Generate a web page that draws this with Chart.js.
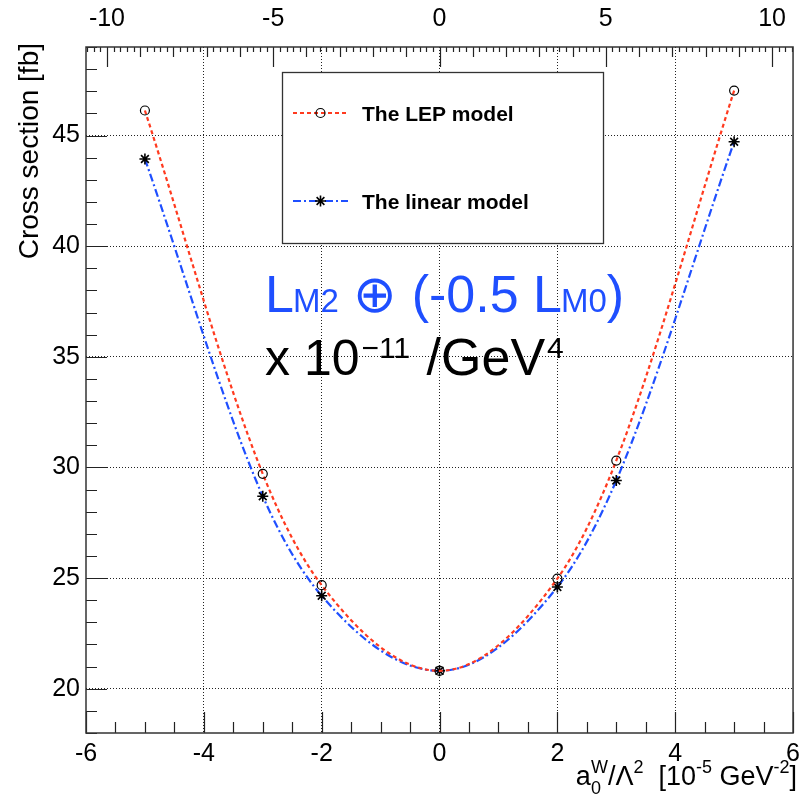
<!DOCTYPE html>
<html><head><meta charset="utf-8">
<script src="https://cdn.jsdelivr.net/npm/chart.js@4/dist/chart.umd.min.js"></script>
<style>html,body{margin:0;padding:0;background:#fff;} #wrap{width:806px;height:799px;position:relative;}</style>
</head><body><div id="wrap"><canvas id="c" width="806" height="799"></canvas></div>
<script>
// ---- data ----
const xValues = [-5, -3, -2, 0, 2, 3, 5];
const lepValues = [46.13, 29.71, 24.68, 20.81, 24.98, 30.31, 47.03];
const linearValues = [43.94, 28.70, 24.20, 20.81, 24.60, 29.41, 44.72];
const seriesNames = ['The LEP model', 'The linear model'];
const xTickValues = [-6, -4, -2, 0, 2, 4, 6];
const yTickValues = [20, 25, 30, 35, 40, 45];
const topTickValues = [-10, -5, 0, 5, 10];
const xRange = [-6, 6];
const yRange = [18, 49];
const topRange = [-10.63, 10.63];

const FONT = '"Liberation Sans", Arial, Helvetica, sans-serif';
const RED = '#ff3a1f';
const BLUE = '#1f4fff';

function toPts(ys) { return xValues.map((x, i) => ({x: x, y: ys[i]})); }

function drawRich(ctx, pieces, x, y, align) {
  let total = 0;
  const widths = pieces.map(p => {
    ctx.font = (p.bold ? 'bold ' : '') + p.size + 'px ' + FONT;
    const w = ctx.measureText(p.t).width;
    if (!p.stack) total += w + (p.dx || 0);
    return w;
  });
  let cx = align === 'right' ? x - total : x;
  pieces.forEach((p, i) => {
    ctx.font = (p.bold ? 'bold ' : '') + p.size + 'px ' + FONT;
    ctx.fillStyle = p.color || '#000';
    ctx.textAlign = 'left';
    ctx.textBaseline = 'alphabetic';
    ctx.fillText(p.t, cx + (p.dx || 0), y + (p.dy || 0));
    if (!p.stack) cx += widths[i] + (p.dx || 0);
  });
}

function drawMarker(ctx, style, x, y, r) {
  ctx.save();
  ctx.strokeStyle = '#000';
  ctx.lineWidth = style === 'circle' ? 1.2 : 1.6;
  ctx.beginPath();
  if (style === 'circle') {
    ctx.arc(x, y, r, 0, Math.PI * 2);
  } else {
    for (let k = 0; k < 4; k++) {
      const a = k * Math.PI / 4;
      ctx.moveTo(x - r * Math.cos(a), y - r * Math.sin(a));
      ctx.lineTo(x + r * Math.cos(a), y + r * Math.sin(a));
    }
  }
  ctx.stroke();
  ctx.restore();
}

const rootPlugin = {
  id: 'rootStyle',
  beforeDatasetsDraw(chart) {
    const {ctx, chartArea: a, scales} = chart;
    const xs = scales.x, ys = scales.y, ts = scales.x2;
    ctx.save();
    ctx.strokeStyle = '#222';
    ctx.lineWidth = 1.2;
    ctx.beginPath();
    // bottom axis ticks (inside)
    for (let v = xRange[0]; v <= xRange[1] + 1e-9; v += 0.5) {
      const px = Math.round(xs.getPixelForValue(v)) + 0.5;
      const major = xTickValues.some(t => Math.abs(t - v) < 1e-6);
      const len = major ? 21 : 11;
      ctx.moveTo(px, a.bottom); ctx.lineTo(px, a.bottom - len);
    }
    // left axis ticks
    for (let v = Math.ceil(yRange[0]); v <= yRange[1] + 1e-9; v += 1) {
      const py = Math.round(ys.getPixelForValue(v)) + 0.5;
      const major = yTickValues.includes(v);
      const len = major ? 21 : 11;
      ctx.moveTo(a.left, py); ctx.lineTo(a.left + len, py);
    }
    // top axis ticks
    const tStart = Math.ceil(topRange[0] / 0.2) * 0.2;
    for (let v = tStart; v <= topRange[1] + 1e-9; v += 0.2) {
      const vv = Math.round(v * 10) / 10;
      const px = Math.round(ts.getPixelForValue(vv)) + 0.5;
      let len = 5;
      if (Math.abs(vv - Math.round(vv)) < 1e-6) len = 10;
      if (topTickValues.some(t => Math.abs(t - vv) < 1e-6)) len = 20;
      ctx.moveTo(px, a.top); ctx.lineTo(px, a.top + len);
    }
    ctx.stroke();
    // frame
    ctx.lineWidth = 1.5;
    ctx.strokeStyle = '#333';
    ctx.strokeRect(a.left, a.top, a.right - a.left, a.bottom - a.top);
    ctx.restore();
  },
  afterDatasetsDraw(chart) {
    const {ctx} = chart;
    ctx.save();
    // legend box
    ctx.fillStyle = '#fff';
    ctx.fillRect(282, 72, 321, 171);
    ctx.strokeStyle = '#333';
    ctx.lineWidth = 1.3;
    ctx.strokeRect(282.5, 72.5, 321, 171);
    const rows = [113, 201];
    chart.data.datasets.forEach((ds, i) => {
      const yy = rows[i];
      ctx.save();
      ctx.strokeStyle = ds.borderColor;
      ctx.lineWidth = ds.borderWidth;
      ctx.setLineDash(ds.borderDash);
      ctx.beginPath();
      ctx.moveTo(293, yy); ctx.lineTo(348, yy);
      ctx.stroke();
      ctx.restore();
      drawMarker(ctx, ds.pointStyle, 320.5, yy, ds.pointRadius);
      ctx.font = 'bold 21px ' + FONT;
      ctx.fillStyle = '#000';
      ctx.textAlign = 'left';
      ctx.textBaseline = 'alphabetic';
      ctx.fillText(ds.label, 362, yy + 7.5);
    });
    // annotation
    drawRich(ctx, [
      {t: 'L', size: 52, color: BLUE},
      {t: 'M2', size: 33, color: BLUE, dx: -1},
      {t: ' \u2295 ', size: 52, color: BLUE},
      {t: '(-0.5 L', size: 52, color: BLUE},
      {t: 'M0', size: 33, color: BLUE, dx: -1},
      {t: ')', size: 52, color: BLUE}
    ], 265, 312, 'left');
    drawRich(ctx, [
      {t: 'x 10', size: 50},
      {t: '\u221211', size: 30, dy: -17, dx: 2},
      {t: ' /GeV', size: 52, dx: 2},
      {t: '4', size: 30, dy: -17, dx: 2}
    ], 265, 375, 'left');
    // y title
    ctx.save();
    ctx.translate(37.5, 43);
    ctx.rotate(-Math.PI / 2);
    ctx.font = '28px ' + FONT;
    ctx.fillStyle = '#000';
    ctx.textAlign = 'right';
    ctx.textBaseline = 'alphabetic';
    ctx.fillText('Cross section [fb]', 0, 0);
    ctx.restore();
    // x title
    drawRich(ctx, [
      {t: 'a', size: 27},
      {t: '0', size: 18, dy: 9, stack: true},
      {t: 'W', size: 18, dy: -12},
      {t: '/\u039B', size: 27},
      {t: '2', size: 18, dy: -12},
      {t: '  [10', size: 27},
      {t: '-5', size: 18, dy: -12},
      {t: ' GeV', size: 27},
      {t: '-2', size: 18, dy: -12},
      {t: ']', size: 27}
    ], 797, 785, 'right');
    ctx.restore();
  }
};

const tickFont = {family: FONT, size: 25};

new Chart(document.getElementById('c'), {
  type: 'line',
  data: {
    datasets: [
      {
        label: seriesNames[0],
        data: toPts(lepValues),
        borderColor: RED,
        borderWidth: 2.2,
        borderDash: [4, 3],
        pointStyle: 'circle',
        pointRadius: 4.5,
        pointBorderColor: '#000',
        pointBackgroundColor: 'rgba(0,0,0,0)',
        pointBorderWidth: 1.2,
        cubicInterpolationMode: 'monotone',
        tension: 0.4,
        fill: false
      },
      {
        label: seriesNames[1],
        data: toPts(linearValues),
        borderColor: BLUE,
        borderWidth: 2.2,
        borderDash: [8, 3, 2, 3],
        pointStyle: 'star',
        pointRadius: 5.5,
        pointBorderColor: '#000',
        pointBackgroundColor: '#000',
        pointBorderWidth: 1.6,
        cubicInterpolationMode: 'monotone',
        tension: 0.4,
        fill: false
      }
    ]
  },
  options: {
    responsive: false,
    animation: false,
    devicePixelRatio: 1,
    layout: {padding: {left: 0, right: 8, top: 0, bottom: 0}},
    plugins: {legend: {display: false}, tooltip: {enabled: false}},
    scales: {
      x: {
        type: 'linear', position: 'bottom', min: xRange[0], max: xRange[1],
        afterBuildTicks: s => { s.ticks = xTickValues.map(v => ({value: v})); },
        afterFit: s => { s.height = 66; },
        ticks: {font: tickFont, color: '#000', padding: 6, maxRotation: 0, autoSkip: false},
        grid: {display: true, drawTicks: false, color: c => (c.tick && Math.abs(c.tick.value) === 6) ? 'rgba(0,0,0,0)' : '#222', lineWidth: 1},
        border: {display: false, dash: [1, 2]}
      },
      x2: {
        type: 'linear', position: 'top', min: topRange[0], max: topRange[1],
        afterBuildTicks: s => { s.ticks = topTickValues.map(v => ({value: v})); },
        afterFit: s => { s.height = 47; },
        ticks: {font: tickFont, color: '#000', padding: 13, maxRotation: 0, autoSkip: false},
        grid: {display: false, drawTicks: false},
        border: {display: false}
      },
      y: {
        type: 'linear', position: 'left', min: yRange[0], max: yRange[1],
        afterBuildTicks: s => { s.ticks = yTickValues.map(v => ({value: v})); },
        afterFit: s => { s.width = 86; },
        ticks: {font: tickFont, color: '#000', padding: 6, autoSkip: false},
        grid: {display: true, drawTicks: false, color: '#222', lineWidth: 1},
        border: {display: false, dash: [1, 2]}
      }
    }
  },
  plugins: [rootPlugin]
});
</script>
</body></html>
